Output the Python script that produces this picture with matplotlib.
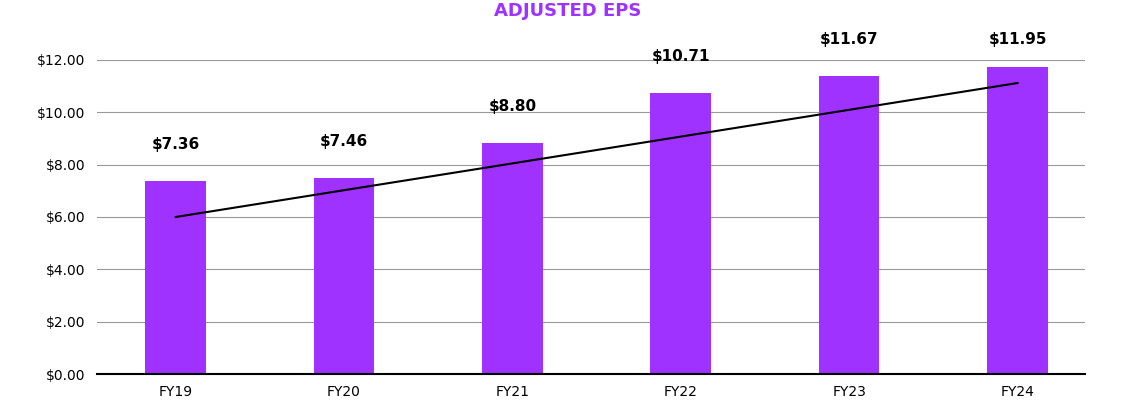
import matplotlib
matplotlib.use("Agg")
import matplotlib.pyplot as plt

years = ["FY19", "FY20", "FY21", "FY22", "FY23", "FY24"]
bar_values = [7.37, 7.49, 8.83, 10.74, 11.39, 11.73]
label_texts = ["$7.36", "$7.46", "$8.80", "$10.71", "$11.67", "$11.95"]
trend_start, trend_end = 6.0, 11.12

PURPLE = "#A032FF"

fig = plt.figure(figsize=(11.36, 4.0), dpi=100)
ax = fig.add_axes([0.085, 0.065, 0.87, 0.785])
x = list(range(len(years)))
ax.bar(x, bar_values, width=0.36, color=PURPLE, zorder=2)
ax.plot([x[0], x[-1]], [trend_start, trend_end], color="black", linewidth=1.5, zorder=3)

for xi, v, t in zip(x, bar_values, label_texts):
    ax.text(xi, min(v + 1.4, 12.8), t, ha="center", va="center",
            fontsize=11, fontweight="bold", clip_on=False)

ax.set_ylim(0, 12)
ax.set_xlim(-0.47, len(years) - 0.6)
ax.set_yticks([0, 2, 4, 6, 8, 10, 12])
ax.set_yticklabels([f"${v:.2f}" for v in [0, 2, 4, 6, 8, 10, 12]], fontsize=10)
ax.set_xticks(x)
ax.set_xticklabels(years, fontsize=10)
ax.grid(axis="y", color="#999999", linewidth=0.8, zorder=0)
ax.tick_params(length=0, pad=8)
for s in ["top", "right", "left"]:
    ax.spines[s].set_visible(False)
ax.spines["bottom"].set_linewidth(1.5)

fig.text(0.5, 0.972, "ADJUSTED EPS", ha="center", va="center",
         color=PURPLE, fontsize=13, fontweight="bold")

fig.savefig("out.png", dpi=100)
